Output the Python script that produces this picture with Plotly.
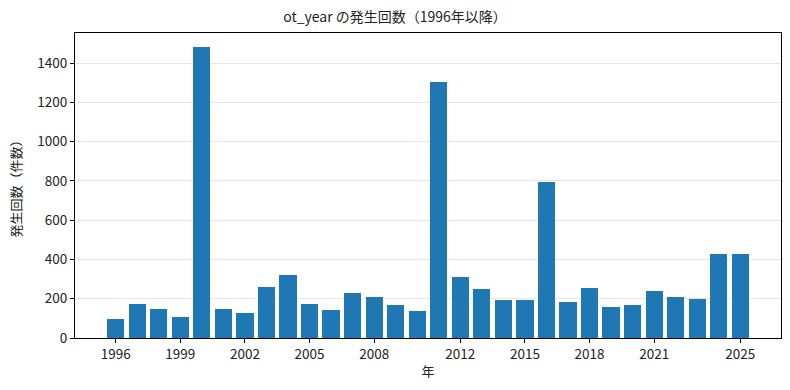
import plotly.graph_objects as go

years = list(range(1996, 2026))
counts = [97, 172, 147, 107, 1482, 147, 127, 262, 322, 172, 142, 227, 207, 167,
          137, 1303, 312, 252, 192, 192, 796, 182, 257, 157, 167, 237, 207, 197, 427, 427]
xtick_vals = [1996, 1999, 2002, 2005, 2008, 2012, 2015, 2018, 2021, 2025]
ytick_vals = [0, 200, 400, 600, 800, 1000, 1200, 1400]

FONT = "Noto Sans CJK JP"

fig = go.Figure(go.Bar(x=years, y=counts, width=0.8, marker=dict(color="#1f77b4", line=dict(width=0))))

fig.update_layout(
    width=790, height=390,
    margin=dict(l=75, r=9, t=33, b=52),
    plot_bgcolor="white", paper_bgcolor="white",
    font=dict(family=FONT, size=13.5, color="#222222"),
    title=dict(text="ot_year の発生回数（1996年以降）", x=0.5, xanchor="center",
               y=1 - 17 / 390, yanchor="middle", font=dict(size=14, color="#222222")),
    showlegend=False,
    bargap=0,
)
fig.update_xaxes(
    range=[1994.11, 2026.89], tickvals=xtick_vals, ticktext=[str(v) for v in xtick_vals],
    showgrid=False, showline=True, linecolor="black", linewidth=1, mirror=True,
    ticks="outside", ticklen=4, tickcolor="black", zeroline=False, automargin=False,
    title=dict(text="年", font=dict(size=13), standoff=4),
)
fig.update_yaxes(
    range=[0, 1554], tickvals=ytick_vals,
    showgrid=True, gridcolor="#e6e6e6", gridwidth=1,
    showline=True, linecolor="black", linewidth=1, mirror=True,
    ticks="outside", ticklen=4, tickcolor="black", zeroline=False, automargin=False,
    title=dict(text="発生回数（件数）", font=dict(size=13), standoff=12),
)

fig.write_html("out.html", config={"displayModeBar": False},
               post_script="document.body.style.margin='0';document.body.style.padding='0';")
